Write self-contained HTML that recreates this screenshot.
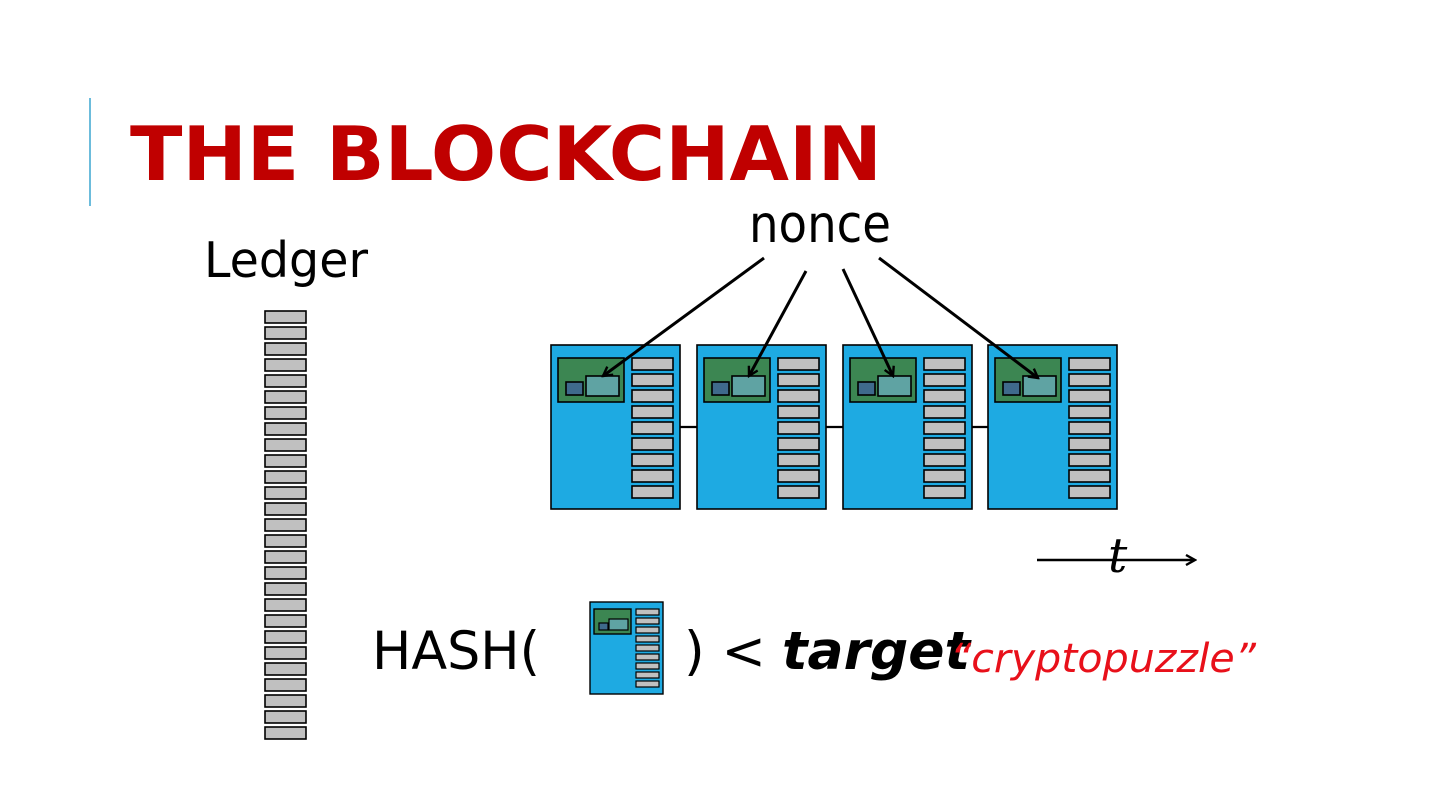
<!DOCTYPE html>
<html><head><meta charset="utf-8"><style>
html,body{margin:0;padding:0;background:#fff;}
svg{display:block;}
text{font-family:"DejaVu Sans","Liberation Sans",sans-serif;}
</style></head><body>
<svg width="1440" height="810" viewBox="0 0 1440 810" xmlns="http://www.w3.org/2000/svg">
<defs>
<g id="bar"><rect x="0" y="0" width="41" height="12" fill="#c0c0c0" stroke="#000" stroke-width="1.6"/></g>
<g id="blk">
<rect x="0" y="0" width="129" height="164" fill="#1eaae2" stroke="#000" stroke-width="1.6"/>
<rect x="7" y="13" width="66" height="44" fill="#3c8652" stroke="#000" stroke-width="1.6"/>
<rect x="15" y="37" width="17" height="13" fill="#3f6a8c" stroke="#000" stroke-width="1.6"/>
<rect x="35" y="31" width="33" height="20" fill="#5fa3a3" stroke="#000" stroke-width="1.6"/>
<use href="#bar" x="81" y="13"/><use href="#bar" x="81" y="29"/><use href="#bar" x="81" y="45"/>
<use href="#bar" x="81" y="61"/><use href="#bar" x="81" y="77"/><use href="#bar" x="81" y="93"/>
<use href="#bar" x="81" y="109"/><use href="#bar" x="81" y="125"/><use href="#bar" x="81" y="141"/>
</g>
<marker id="ah" markerWidth="12" markerHeight="12" refX="10" refY="6" orient="auto" markerUnits="userSpaceOnUse">
<path d="M1,1 L10,6 L1,11" fill="none" stroke="#000" stroke-width="2.4"/>
</marker>
</defs>

<line x1="90" y1="98" x2="90" y2="206" stroke="#3aa6d0" stroke-width="1.5"/>
<text x="130" y="180" font-size="75" font-weight="bold" fill="#c00000" textLength="752" lengthAdjust="spacingAndGlyphs">THE BLOCKCHAIN</text>

<text x="204" y="277" font-size="49" fill="#000" textLength="164" lengthAdjust="spacingAndGlyphs">Ledger</text>
<text x="749" y="242" font-size="52" fill="#000" textLength="142" lengthAdjust="spacingAndGlyphs">nonce</text>

<!-- ledger bars -->
<g>
<use href="#bar" x="265" y="311"/><use href="#bar" x="265" y="327"/><use href="#bar" x="265" y="343"/>
<use href="#bar" x="265" y="359"/><use href="#bar" x="265" y="375"/><use href="#bar" x="265" y="391"/>
<use href="#bar" x="265" y="407"/><use href="#bar" x="265" y="423"/><use href="#bar" x="265" y="439"/>
<use href="#bar" x="265" y="455"/><use href="#bar" x="265" y="471"/><use href="#bar" x="265" y="487"/>
<use href="#bar" x="265" y="503"/><use href="#bar" x="265" y="519"/><use href="#bar" x="265" y="535"/>
<use href="#bar" x="265" y="551"/><use href="#bar" x="265" y="567"/><use href="#bar" x="265" y="583"/>
<use href="#bar" x="265" y="599"/><use href="#bar" x="265" y="615"/><use href="#bar" x="265" y="631"/>
<use href="#bar" x="265" y="647"/><use href="#bar" x="265" y="663"/><use href="#bar" x="265" y="679"/>
<use href="#bar" x="265" y="695"/><use href="#bar" x="265" y="711"/><use href="#bar" x="265" y="727"/>
</g>

<!-- chain -->
<line x1="680" y1="427" x2="988" y2="427" stroke="#000" stroke-width="2.2"/>
<use href="#blk" x="551" y="345"/>
<use href="#blk" x="697" y="345"/>
<use href="#blk" x="843" y="345"/>
<use href="#blk" x="988" y="345"/>

<!-- nonce arrows -->
<g stroke="#000" stroke-width="3" fill="none" marker-end="url(#ah)">
<line x1="764" y1="258" x2="603" y2="376"/>
<line x1="806" y1="271" x2="749" y2="376"/>
<line x1="843" y1="269" x2="893" y2="376"/>
<line x1="879" y1="258" x2="1038" y2="378"/>
</g>

<!-- time arrow -->
<line x1="1037" y1="560" x2="1195" y2="560" stroke="#000" stroke-width="2.5" marker-end="url(#ah)"/>
<text x="1108" y="572" font-size="48" font-style="italic" fill="#000" style="font-family:'DejaVu Serif','Liberation Serif',serif">t</text>

<!-- hash formula -->
<text x="372" y="669" font-size="53" fill="#000" textLength="168" lengthAdjust="spacingAndGlyphs">HASH(</text>
<g transform="translate(590,602)">
<rect x="0" y="0" width="73" height="92" fill="#1eaae2" stroke="#000" stroke-width="1.4"/>
<rect x="4" y="7" width="37" height="25" fill="#3c8652" stroke="#000" stroke-width="1.4"/>
<rect x="9" y="21" width="9" height="7" fill="#3f6a8c" stroke="#000" stroke-width="1.2"/>
<rect x="19" y="17" width="19" height="11" fill="#5fa3a3" stroke="#000" stroke-width="1.2"/>
<g fill="#c0c0c0" stroke="#000" stroke-width="1.2">
<rect x="46" y="7" width="23" height="6"/><rect x="46" y="16" width="23" height="6"/>
<rect x="46" y="25" width="23" height="6"/><rect x="46" y="34" width="23" height="6"/>
<rect x="46" y="43" width="23" height="6"/><rect x="46" y="52" width="23" height="6"/>
<rect x="46" y="61" width="23" height="6"/><rect x="46" y="70" width="23" height="6"/>
<rect x="46" y="79" width="23" height="6"/>
</g>
</g>
<text x="684" y="669" font-size="53" fill="#000" textLength="82" lengthAdjust="spacingAndGlyphs">) &lt;</text>
<text x="782" y="669" font-size="53" font-weight="bold" font-style="italic" fill="#000" textLength="188" lengthAdjust="spacingAndGlyphs">target</text>
<text x="950" y="672" font-size="40" font-style="italic" fill="#e8101a" textLength="306" lengthAdjust="spacingAndGlyphs">“cryptopuzzle”</text>
</svg>
</body></html>
